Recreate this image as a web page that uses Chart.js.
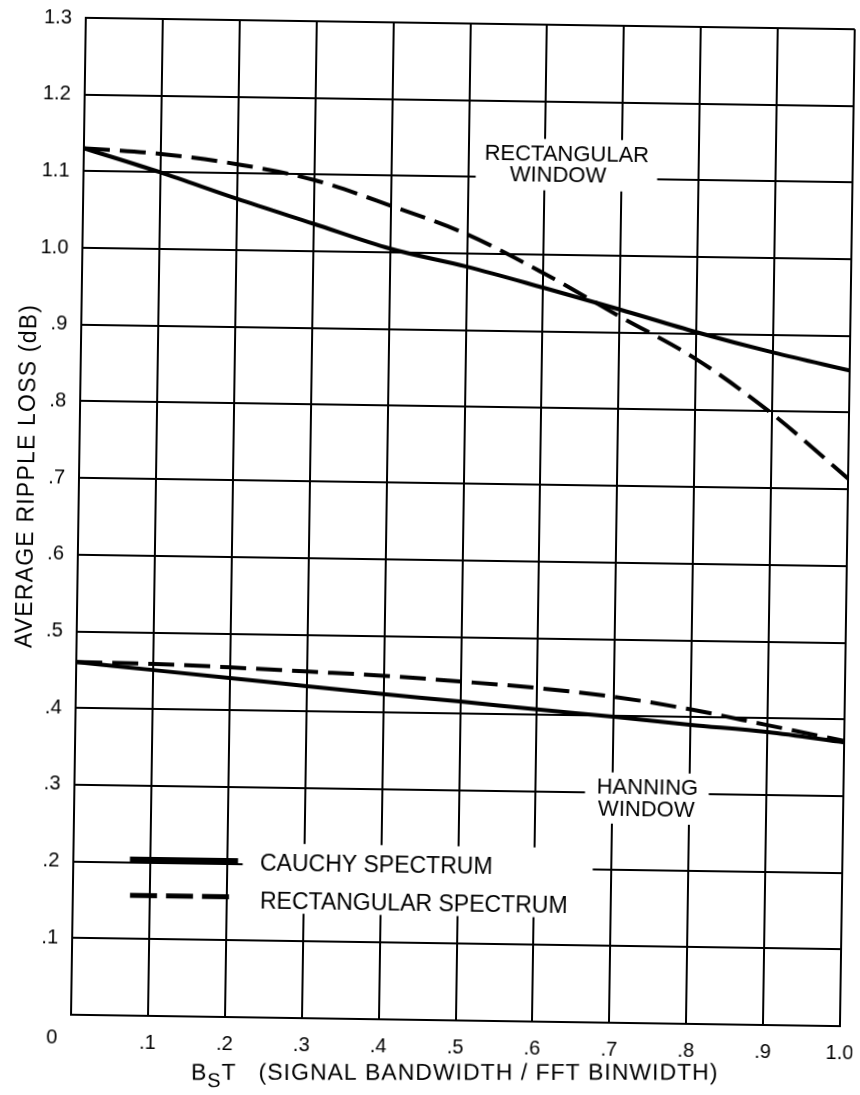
<!DOCTYPE html>
<html>
<head>
<meta charset="utf-8">
<title>Average Ripple Loss</title>
<script src="https://cdn.jsdelivr.net/npm/chart.js@4.4.1/dist/chart.umd.min.js"></script>
<style>
  html, body { margin: 0; padding: 0; background: #fff; }
  #wrap { position: relative; width: 860px; height: 1095px; overflow: hidden; background: #fff; }
  /* the printed sheet sits slightly askew */
  #plot { display: block; transform: rotate(0.85deg); transform-origin: 50% 50%; }
</style>
</head>
<body>
<div id="wrap"><canvas id="plot" width="860" height="1095"></canvas></div>
<script>
// ---- data ----
const bandwidthRatio = [0, 0.1, 0.2, 0.3, 0.4, 0.5, 0.6, 0.7, 0.8, 0.9, 1.0];

// rectangular window
const rectWindowCauchy   = [1.130, 1.100, 1.067, 1.036, 1.005, 0.983, 0.957, 0.930, 0.902, 0.877, 0.855];
const rectWindowRectSpec = [1.130, 1.124, 1.112, 1.093, 1.061, 1.025, 0.976, 0.921, 0.867, 0.797, 0.714];

// hanning window
const hanningCauchy   = [0.460, 0.451, 0.442, 0.433, 0.424, 0.416, 0.407, 0.399, 0.390, 0.382, 0.370];
const hanningRectSpec = [0.460, 0.459, 0.456, 0.452, 0.448, 0.442, 0.435, 0.425, 0.410, 0.391, 0.372];

const xTickLabels = ['', '.1', '.2', '.3', '.4', '.5', '.6', '.7', '.8', '.9', '1.0'];
const yTickLabels = ['', '.1', '.2', '.3', '.4', '.5', '.6', '.7', '.8', '.9', '1.0', '1.1', '1.2', '1.3'];
const originLabel = '0';

const legendLabels = ['CAUCHY SPECTRUM', 'RECTANGULAR SPECTRUM'];
const rectWindowLabel = ['RECTANGULAR', 'WINDOW'];
const hanningLabel = ['HANNING', 'WINDOW'];
const yTitle = 'AVERAGE RIPPLE LOSS (dB)';
const xTitleMain = 'B';
const xTitleSub = 'S';
const xTitleTail = 'T';
const xTitleRest = '(SIGNAL BANDWIDTH / FFT BINWIDTH)';

// ---- styling ----
const FONT = "'Liberation Sans', Arial, sans-serif";
const INK = '#000';
const DASH = [26, 10];
const TILT = 0.85 * Math.PI / 180;

const toPoints = arr => bandwidthRatio.map((bx, i) => ({ x: bx, y: arr[i] }));

const curveStyle = {
  borderColor: INK,
  borderWidth: 4,
  pointRadius: 0,
  fill: false,
  tension: 0.4,
  cubicInterpolationMode: 'monotone',
  borderCapStyle: 'butt'
};

// layout of the in-plot notes (data units)
const notePlacement = {
  rectBox:    { x0: 0.510, x1: 0.746, y0: 1.084, y1: 1.151 },
  rectRows:   [{ x: 0.628, y: 1.1305 }, { x: 0.617, y: 1.103 }],
  hannBox:    { x0: 0.664, x1: 0.825, y0: 0.2596, y1: 0.3264 },
  hannRows:   [{ x: 0.745, y: 0.3067 }, { x: 0.744, y: 0.278 }],
  legendBox:  { x0: 0.2203, x1: 0.6755, y0: 0.1361, y1: 0.2271 },
  legendRows: [
    { x0: 0.0736, x1: 0.2142, y: 0.2039, tx: 0.2428, ty: 0.2002 },
    { x0: 0.0744, x1: 0.2109, y: 0.1569, tx: 0.2435, ty: 0.1506 }
  ]
};

function whiteBox(ctx, xs, ys, b) {
  const l = xs.getPixelForValue(b.x0), r = xs.getPixelForValue(b.x1);
  const t = ys.getPixelForValue(b.y1), btm = ys.getPixelForValue(b.y0);
  ctx.fillStyle = '#fff';
  ctx.fillRect(l, t, r - l, btm - t);
}

const notesPlugin = {
  id: 'notes',
  beforeDatasetsDraw(chart) {
    const { ctx, scales: { x, y } } = chart;
    ctx.save();
    whiteBox(ctx, x, y, notePlacement.rectBox);
    whiteBox(ctx, x, y, notePlacement.hannBox);
    whiteBox(ctx, x, y, notePlacement.legendBox);
    ctx.restore();
  },
  afterDatasetsDraw(chart) {
    const { ctx, scales: { x, y } } = chart;
    ctx.save();
    ctx.fillStyle = INK;
    ctx.font = `22px ${FONT}`;
    ctx.textAlign = 'center';
    ctx.textBaseline = 'middle';
    rectWindowLabel.forEach((txt, i) => {
      const p = notePlacement.rectRows[i];
      ctx.fillText(txt, x.getPixelForValue(p.x), y.getPixelForValue(p.y));
    });
    hanningLabel.forEach((txt, i) => {
      const p = notePlacement.hannRows[i];
      ctx.fillText(txt, x.getPixelForValue(p.x), y.getPixelForValue(p.y));
    });

    // legend: line samples use the series' own stroke style
    const samples = [chart.data.datasets[0], chart.data.datasets[1]];
    ctx.textAlign = 'left';
    ctx.font = `23px ${FONT}`;
    legendLabels.forEach((txt, i) => {
      const row = notePlacement.legendRows[i];
      const ds = samples[i];
      ctx.save();
      ctx.strokeStyle = ds.borderColor;
      ctx.lineWidth = 5;
      ctx.setLineDash(ds.borderDash ? [27, 9] : []);
      ctx.beginPath();
      const py = y.getPixelForValue(row.y);
      ctx.moveTo(x.getPixelForValue(row.x0), py);
      ctx.lineTo(x.getPixelForValue(row.x1), py);
      ctx.stroke();
      ctx.restore();
      ctx.fillText(txt, x.getPixelForValue(row.tx), y.getPixelForValue(row.ty));
    });
    ctx.restore();
  },
  afterDraw(chart) {
    const { ctx, chartArea } = chart;
    ctx.save();
    ctx.fillStyle = INK;

    // shared origin label
    ctx.font = `20px ${FONT}`;
    ctx.textAlign = 'center';
    ctx.textBaseline = 'middle';
    ctx.fillText(originLabel, chartArea.left - 19, chartArea.bottom + 23);

    // vertical axis title
    ctx.save();
    ctx.translate(27, 482);
    ctx.rotate(-Math.PI / 2);
    ctx.font = `23px ${FONT}`;
    ctx.letterSpacing = '1.2px';
    ctx.textAlign = 'center';
    ctx.textBaseline = 'middle';
    ctx.fillText(yTitle, 0, 0);
    ctx.restore();

    // horizontal axis title, with subscript
    ctx.save();
    const cx = (chartArea.left + chartArea.right) / 2;
    ctx.translate(cx, 1073);
    ctx.rotate(-TILT);
    ctx.textAlign = 'left';
    ctx.textBaseline = 'middle';
    ctx.letterSpacing = '1px';
    ctx.font = `23px ${FONT}`;
    const wB = ctx.measureText(xTitleMain).width;
    const wT = ctx.measureText(xTitleTail).width;
    const wRest = ctx.measureText(xTitleRest).width;
    ctx.font = `20px ${FONT}`;
    const wS = ctx.measureText(xTitleSub).width;
    const gap = 22;
    const total = wB + wS + wT + gap + wRest;
    let px = -total / 2;
    ctx.font = `23px ${FONT}`;
    ctx.fillText(xTitleMain, px, 0); px += wB;
    ctx.font = `20px ${FONT}`;
    ctx.fillText(xTitleSub, px, 8); px += wS;
    ctx.font = `23px ${FONT}`;
    ctx.fillText(xTitleTail, px, 0); px += wT + gap;
    ctx.fillText(xTitleRest, px, 0);
    ctx.restore();

    ctx.restore();
  }
};

const gridStyle = { color: INK, lineWidth: 2, drawTicks: false };
const borderStyle = { color: INK, width: 2 };

new Chart(document.getElementById('plot'), {
  type: 'line',
  data: {
    datasets: [
      { label: legendLabels[0], data: toPoints(rectWindowCauchy), ...curveStyle },
      { label: legendLabels[1], data: toPoints(rectWindowRectSpec), ...curveStyle, borderDash: DASH },
      { label: legendLabels[0], data: toPoints(hanningCauchy), ...curveStyle },
      { label: legendLabels[1], data: toPoints(hanningRectSpec), ...curveStyle, borderDash: DASH }
    ]
  },
  options: {
    responsive: false,
    devicePixelRatio: 1,
    animation: false,
    layout: { padding: { top: 23, right: 13, left: 0, bottom: 0 } },
    plugins: { legend: { display: false }, tooltip: { enabled: false } },
    scales: {
      x: {
        type: 'linear',
        min: 0, max: 1,
        afterFit(scale) {
          scale.height = 75;
          scale.paddingLeft = 0;
          scale.paddingRight = 0;
        },
        grid: gridStyle,
        border: borderStyle,
        ticks: {
          stepSize: 0.1,
          autoSkip: false,
          maxRotation: 0,
          padding: 15,
          color: INK,
          font: { family: FONT, size: 20 },
          callback: (v, i) => xTickLabels[i]
        }
      },
      y: {
        type: 'linear',
        min: 0, max: 1.3,
        afterFit(scale) {
          scale.width = 78;
          scale.paddingTop = 0;
          scale.paddingBottom = 0;
        },
        grid: gridStyle,
        border: borderStyle,
        ticks: {
          stepSize: 0.1,
          autoSkip: false,
          padding: 14,
          color: INK,
          font: { family: FONT, size: 20 },
          callback: (v, i) => yTickLabels[i]
        }
      }
    }
  },
  plugins: [notesPlugin]
});
</script>
</body>
</html>
